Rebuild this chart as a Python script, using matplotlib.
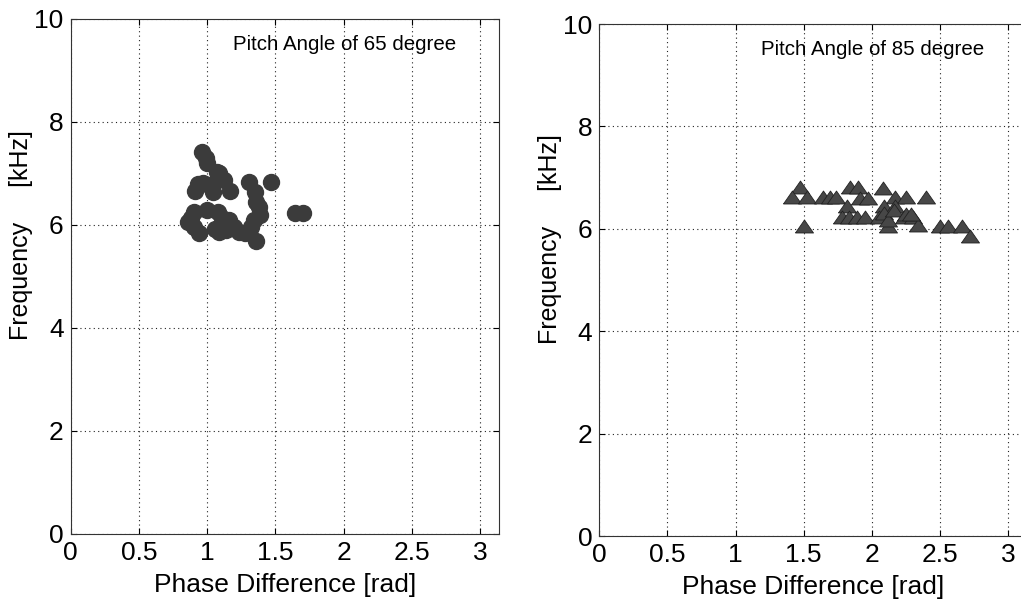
import numpy as np
import matplotlib
matplotlib.use("Agg")
import matplotlib.pyplot as plt

plt.rcParams['font.family'] = ['Liberation Sans', 'DejaVu Sans']

# pitch angle 65 degree: phase difference [rad] / frequency [kHz]
phase_65 = [0.96, 0.99, 1.00, 1.07, 1.09, 1.12, 1.17, 0.97, 0.93, 0.91, 1.01,
            1.04, 1.31, 1.35, 1.36, 1.38, 1.39, 1.47, 1.64, 1.70, 0.90, 1.00,
            1.08, 0.88, 0.86, 0.90, 0.94, 1.09, 1.16, 1.20, 1.23, 1.28, 1.32,
            1.34, 1.355, 1.11, 1.06, 1.14]
freq_65 = [7.42, 7.30, 7.20, 7.03, 7.00, 6.87, 6.66, 6.82, 6.80, 6.66, 6.77,
           6.65, 6.84, 6.65, 6.45, 6.35, 6.19, 6.84, 6.24, 6.24, 6.26, 6.29,
           6.26, 6.13, 6.05, 5.97, 5.84, 5.87, 6.10, 5.97, 5.87, 5.84, 5.97,
           6.10, 5.68, 6.13, 5.92, 5.90]

# pitch angle 85 degree
phase_85 = [1.47, 1.84, 1.90, 2.08, 1.415, 1.525, 1.645, 1.69, 1.74, 1.91,
            1.97, 2.17, 2.25, 2.40, 1.82, 2.09, 2.17, 1.78, 1.83, 1.89, 1.95,
            2.05, 2.09, 2.24, 2.30, 2.34, 1.50, 2.12, 2.50, 2.56, 2.66, 2.72,
            2.12, 2.16, 2.25, 2.29]
freq_85 = [6.81, 6.81, 6.81, 6.79, 6.63, 6.63, 6.63, 6.63, 6.63, 6.60,
           6.60, 6.63, 6.62, 6.63, 6.44, 6.44, 6.44, 6.24, 6.24, 6.24, 6.24,
           6.24, 6.31, 6.24, 6.24, 6.08, 6.05, 6.05, 6.05, 6.05, 6.05, 5.86,
           6.18, 6.37, 6.29, 6.29]

xticks = [0, 0.5, 1, 1.5, 2, 2.5, 3]
xtick_labels = ['0', '0.5', '1', '1.5', '2', '2.5', '3']
yticks = [0, 2, 4, 6, 8, 10]

# flat triangle marker
tri = [(-1, -0.72), (1, -0.72), (0, 0.72), (-1, -0.72)]

fig = plt.figure(figsize=(10.21, 6.05), dpi=100)
ax1 = fig.add_axes([0.0692, 0.1174, 0.4200, 0.8512])
ax2 = fig.add_axes([0.5870, 0.1140, 0.4192, 0.8463])

ax1.plot(phase_65, freq_65, linestyle='none', marker='o', ms=11.5,
         mfc='#3b3b3b', mec='#3b3b3b')
ax2.plot(phase_85, freq_85, linestyle='none', marker=tri, ms=13,
         mfc='#474747', mec='#222222', mew=0.6)

labels = ['Pitch Angle of 65 degree', 'Pitch Angle of 85 degree']
for ax, lab in zip([ax1, ax2], labels):
    ax.set_xlim(0, np.pi)
    ax.set_ylim(0, 10)
    ax.set_xticks(xticks)
    ax.set_xticklabels(xtick_labels)
    ax.set_yticks(yticks)
    ax.tick_params(direction='in', length=4, width=0.8, labelsize=19,
                   top=True, right=True, pad=5)
    ax.grid(True, linestyle=(0, (1, 3)), color='#222222', linewidth=0.8)
    for s in ax.spines.values():
        s.set_linewidth(0.8)
        s.set_color('#333333')
    ax.set_xlabel('Phase Difference [rad]', fontsize=19, labelpad=6)
    ax.set_ylabel('Frequency     [kHz]', fontsize=18)
    ax.yaxis.set_label_coords(-0.087, 0.58)
    ax.text(1.19, 9.5, lab, fontsize=14.8, va='center', ha='left')

fig.savefig('out.png', dpi=100)
